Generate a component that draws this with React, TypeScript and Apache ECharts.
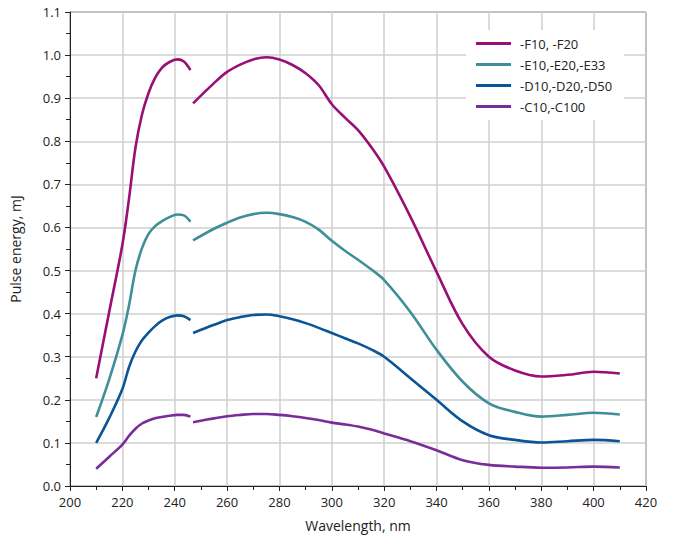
import React, { useEffect, useRef } from "react";
import * as echarts from "echarts";

const seriesNames = ["-F10, -F20", "-E10,-E20,-E33", "-D10,-D20,-D50", "-C10,-C100"];
const seriesColors = ["#990f76", "#3f8f98", "#0b5596", "#782d99"];

const seg1X = [210, 215, 220, 222.5, 225, 227.5, 230, 232.5, 235, 238, 241, 243.5, 246];
const seg2X = [247, 255, 260, 265, 270, 275, 280, 285, 290, 295, 300, 305, 310, 315, 320, 330, 340, 350, 360, 370, 380, 390, 400, 410];

const fSeg1 = [0.25, 0.405, 0.56, 0.665, 0.785, 0.862, 0.912, 0.947, 0.97, 0.984, 0.99, 0.985, 0.965];
const eSeg1 = [0.16, 0.248, 0.35, 0.418, 0.5, 0.552, 0.585, 0.603, 0.614, 0.624, 0.63, 0.628, 0.613];
const dSeg1 = [0.1, 0.158, 0.225, 0.275, 0.312, 0.338, 0.356, 0.371, 0.383, 0.392, 0.396, 0.394, 0.385];
const cSeg1 = [0.04, 0.068, 0.096, 0.116, 0.133, 0.145, 0.152, 0.157, 0.16, 0.163, 0.165, 0.165, 0.161];

const fSeg2 = [0.888, 0.935, 0.961, 0.978, 0.99, 0.995, 0.99, 0.977, 0.958, 0.93, 0.886, 0.855, 0.826, 0.787, 0.741, 0.625, 0.497, 0.375, 0.3, 0.268, 0.254, 0.258, 0.265, 0.261];
const eSeg2 = [0.57, 0.597, 0.611, 0.623, 0.631, 0.634, 0.631, 0.624, 0.613, 0.595, 0.569, 0.546, 0.525, 0.503, 0.478, 0.404, 0.316, 0.242, 0.192, 0.172, 0.161, 0.165, 0.17, 0.166];
const dSeg2 = [0.355, 0.374, 0.385, 0.392, 0.397, 0.398, 0.394, 0.387, 0.378, 0.367, 0.355, 0.343, 0.331, 0.317, 0.3, 0.25, 0.2, 0.15, 0.118, 0.107, 0.101, 0.104, 0.107, 0.104];
const cSeg2 = [0.148, 0.157, 0.162, 0.165, 0.167, 0.167, 0.165, 0.162, 0.158, 0.153, 0.147, 0.143, 0.138, 0.131, 0.122, 0.104, 0.083, 0.06, 0.049, 0.045, 0.0425, 0.043, 0.045, 0.043];

const seg1Values = [fSeg1, eSeg1, dSeg1, cSeg1];
const seg2Values = [fSeg2, eSeg2, dSeg2, cSeg2];

const FONT = "'Open Sans', 'Liberation Sans', sans-serif";

export default function App() {
  const ref = useRef<HTMLDivElement>(null);
  useEffect(() => {
    if (!ref.current) return;
    const chart = echarts.init(ref.current, undefined, { renderer: "svg" });
    const series: any[] = [];
    seriesNames.forEach((name, i) => {
      const mk = (xs: number[], ys: number[]) => ({
        name,
        type: "line",
        data: xs.map((x, k) => [x, ys[k]]),
        smooth: 0.35,
        showSymbol: false,
        symbol: "none",
        lineStyle: { color: seriesColors[i], width: 2.6 },
        itemStyle: { color: seriesColors[i] },
        z: 3,
      });
      series.push(mk(seg1X, seg1Values[i]));
      series.push(mk(seg2X, seg2Values[i]));
    });
    chart.setOption({
      animation: false,
      textStyle: { fontFamily: FONT },
      grid: {
        left: 69,
        right: 27,
        top: 12,
        bottom: 54,
        show: true,
        borderColor: "#444",
        borderWidth: 1,
        backgroundColor: "transparent",
      },
      legend: {
        data: seriesNames,
        orient: "vertical",
        left: 466,
        top: 30,
        padding: [7, 12, 7, 10],
        itemGap: 8,
        itemWidth: 35,
        itemHeight: 3,
        icon: "rect",
        backgroundColor: "#ffffff",
        textStyle: { fontSize: 13, color: "#222", fontFamily: FONT, padding: [0, 0, 0, 4] },
      },
      xAxis: {
        type: "value",
        min: 200,
        max: 420,
        interval: 20,
        name: "Wavelength, nm",
        nameLocation: "middle",
        nameGap: 32,
        nameTextStyle: { fontSize: 14, color: "#222", fontFamily: FONT },
        axisLine: { show: true, lineStyle: { color: "#222", width: 1 } },
        axisTick: { show: true, inside: false, length: 5, lineStyle: { color: "#222" } },
        minorTick: { show: true, splitNumber: 2, length: 4, lineStyle: { color: "#222" } },
        axisLabel: { fontSize: 13, color: "#222", margin: 9, fontFamily: FONT },
        splitLine: { show: true, lineStyle: { color: "#cfcfcf", width: 1.5 } },
      },
      yAxis: {
        type: "value",
        min: 0,
        max: 1.1,
        interval: 0.1,
        name: "Pulse energy, mJ",
        nameLocation: "middle",
        nameGap: 48,
        nameTextStyle: { fontSize: 14, color: "#222", fontFamily: FONT },
        axisLine: { show: true, lineStyle: { color: "#222", width: 1 } },
        axisTick: { show: true, inside: false, length: 5, lineStyle: { color: "#222" } },
        minorTick: { show: true, splitNumber: 2, length: 4, lineStyle: { color: "#222" } },
        axisLabel: {
          fontSize: 13,
          color: "#222",
          margin: 9,
          fontFamily: FONT,
          formatter: (v: number) => v.toFixed(1),
        },
        splitLine: { show: true, lineStyle: { color: "#cfcfcf", width: 1.5 } },
      },
      series,
    });
    return () => chart.dispose();
  }, []);
  return <div ref={ref} style={{ width: 673, height: 540, position: "absolute", left: 0, top: 0 }} />;
}
